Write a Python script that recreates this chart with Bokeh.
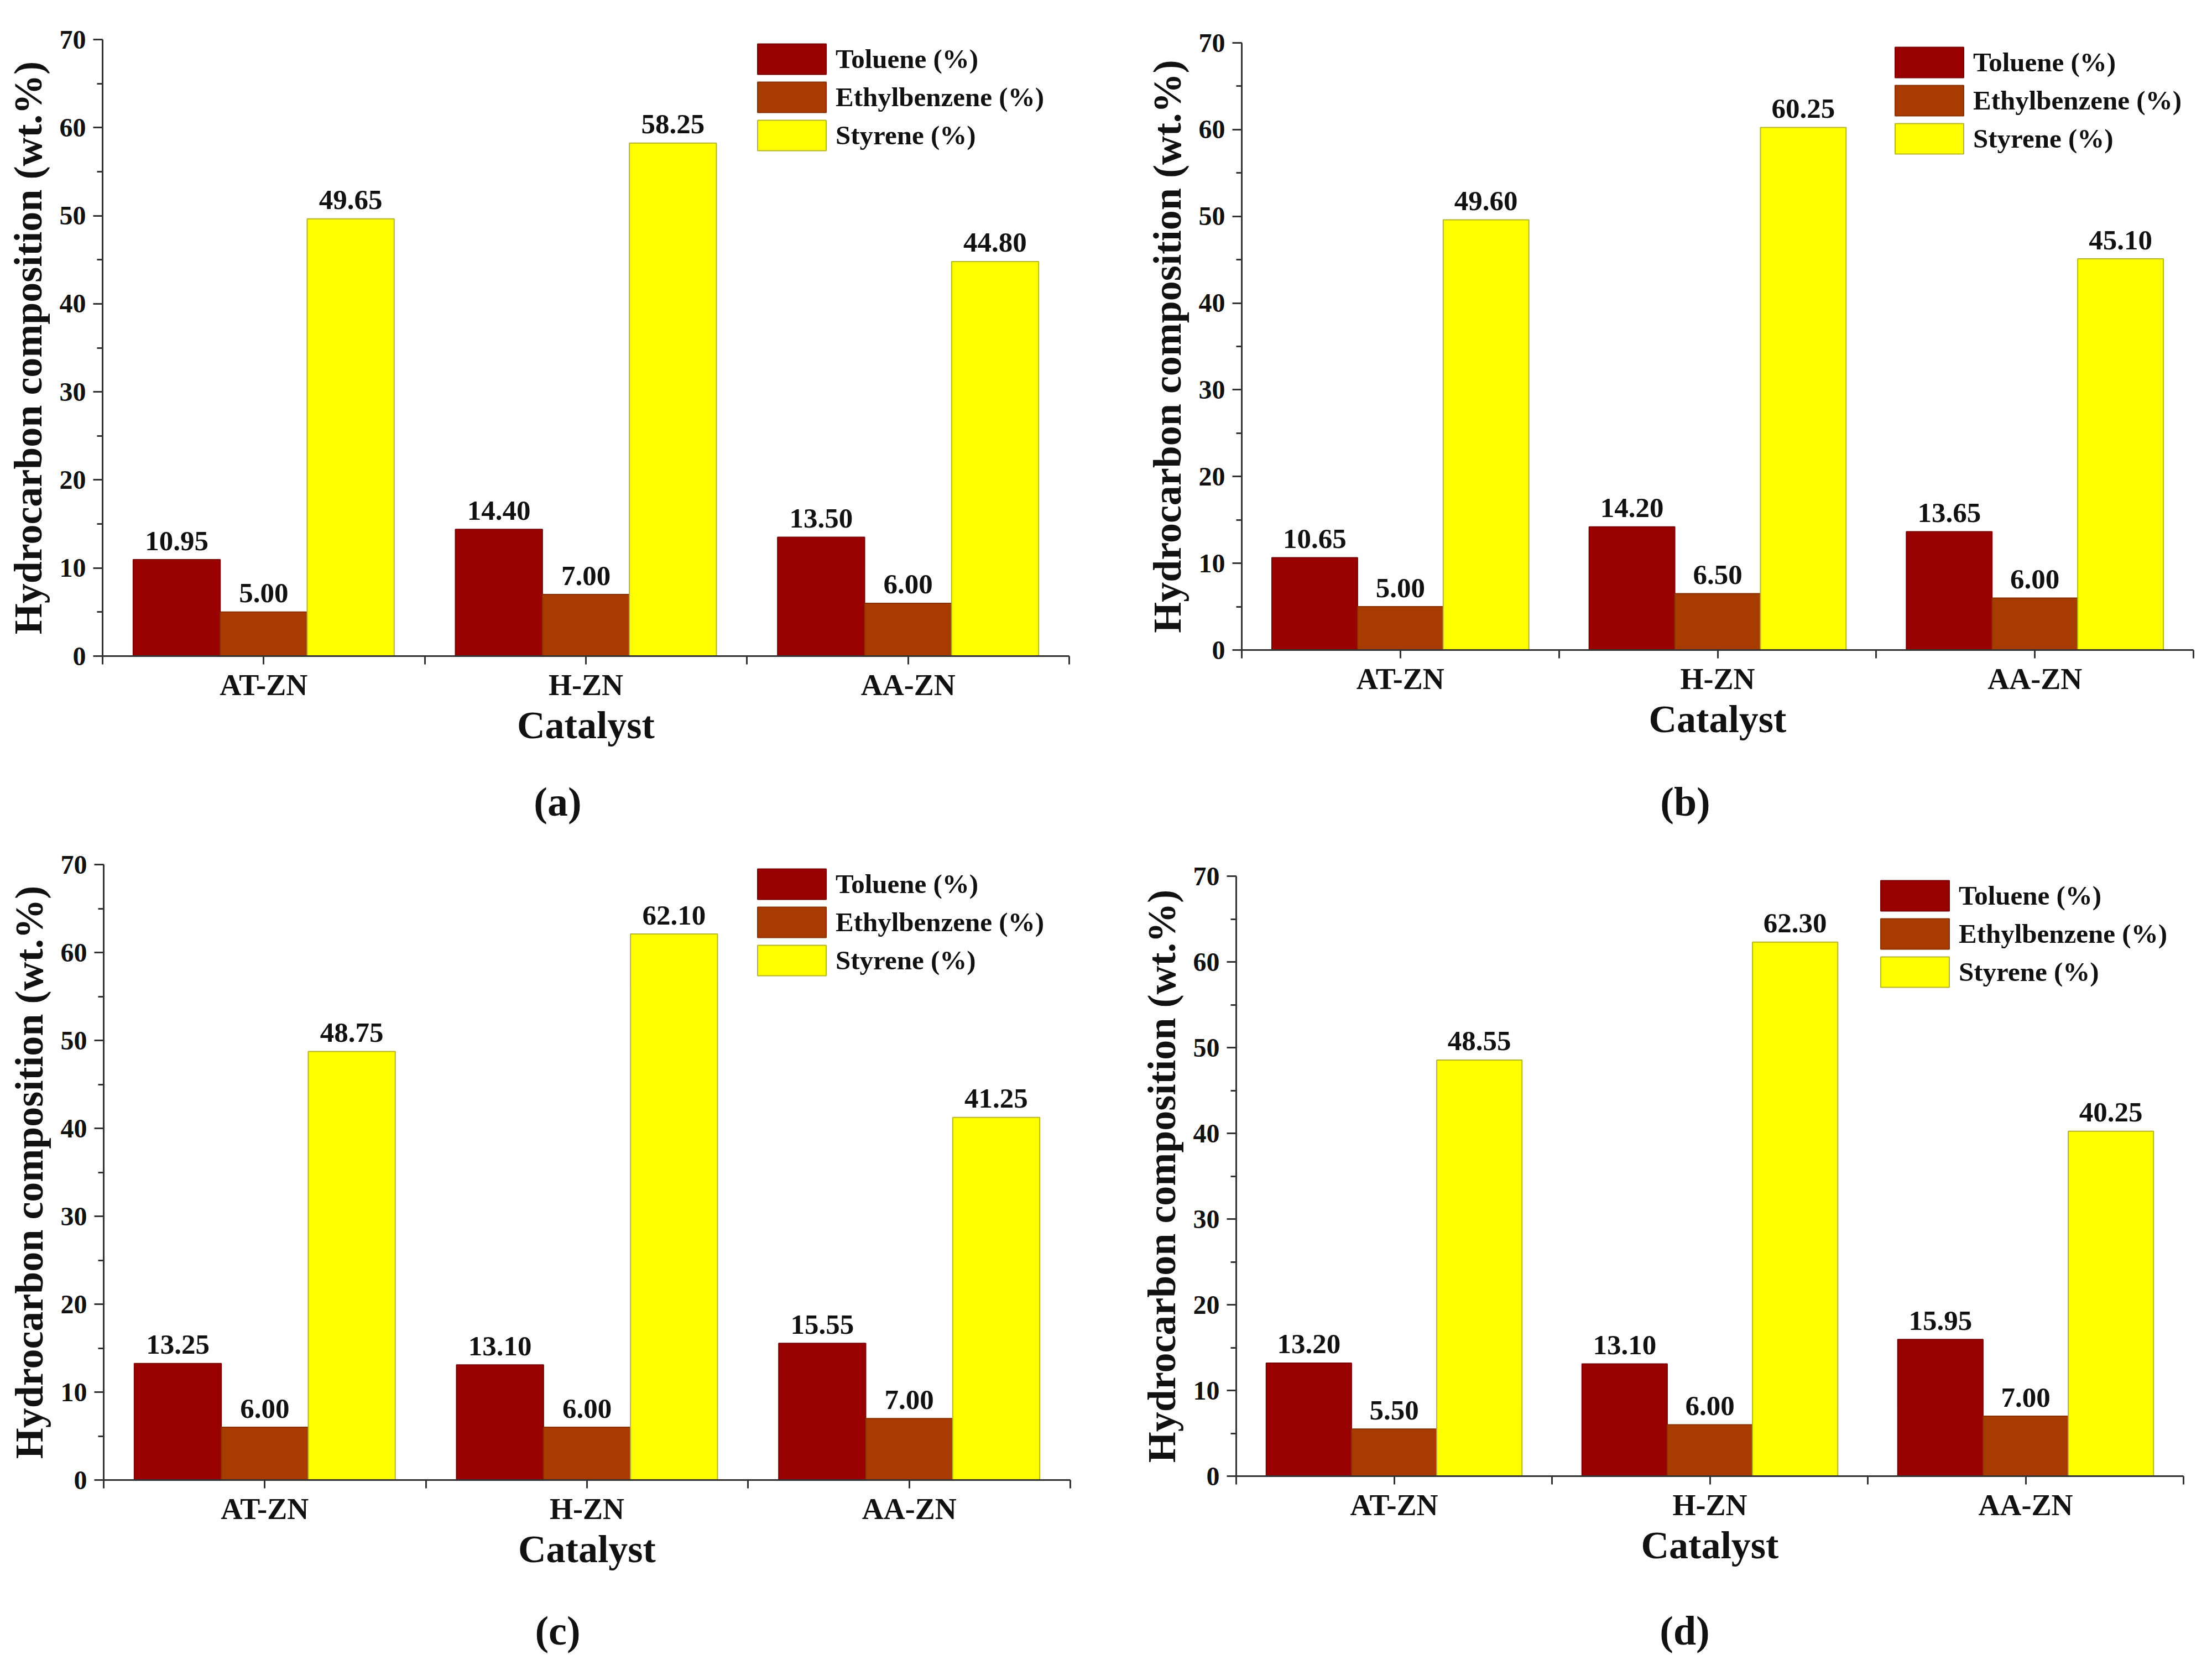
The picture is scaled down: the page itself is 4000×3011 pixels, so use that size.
from bokeh.plotting import figure
from bokeh.models import Range1d, FixedTicker, SingleIntervalTicker, Legend, LegendItem, Label
from bokeh.layouts import row, column
from bokeh.embed import file_html
from bokeh.resources import INLINE
from bokeh.core.properties import value

# ---------------- data ----------------
catalysts = ["AT-ZN", "H-ZN", "AA-ZN"]
series_names = ["Toluene (%)", "Ethylbenzene (%)", "Styrene (%)"]

toluene_a = [10.95, 14.40, 13.50]
ethylbenzene_a = [5.00, 7.00, 6.00]
styrene_a = [49.65, 58.25, 44.80]

toluene_b = [10.65, 14.20, 13.65]
ethylbenzene_b = [5.00, 6.50, 6.00]
styrene_b = [49.60, 60.25, 45.10]

toluene_c = [13.25, 13.10, 15.55]
ethylbenzene_c = [6.00, 6.00, 7.00]
styrene_c = [48.75, 62.10, 41.25]

toluene_d = [13.20, 13.10, 15.95]
ethylbenzene_d = [5.50, 6.00, 7.00]
styrene_d = [48.55, 62.30, 40.25]

panel_captions = ["(a)", "(b)", "(c)", "(d)"]
y_label = "Hydrocarbon composition (wt.%)"
x_label = "Catalyst"
y_max = 70

# ---------------- style ----------------
FONT = "Liberation Serif"
FILL = ["#990000", "#a83c00", "#ffff00"]
LINE = ["#7a0000", "#8a3000", "#b5b52a"]
AXC = "#333333"
TXT = "#111111"
BAR_W = 0.27
LABEL_GAP_PX = 34          # from bar top to centre of the value label
GLYPH_W, GLYPH_H = 155, 69
CAP_SIZE = 74


def make_panel(series, W, H, bl, bt, br, bb, leg_x):
    p = figure(width=W, height=H, output_backend="svg", toolbar_location=None,
               x_range=Range1d(0, 3), y_range=Range1d(0, y_max),
               min_border_left=bl, min_border_top=bt, min_border_right=br,
               min_border_bottom=bb)
    try:
        p.frame_align = False
    except Exception:
        pass
    p.xgrid.visible = False
    p.ygrid.visible = False
    p.outline_line_color = None
    p.background_fill_color = "white"
    p.border_fill_color = "white"

    frame_h = H - bt - bb
    gap = LABEL_GAP_PX * y_max / frame_h

    items = []
    for i, vals in enumerate(series):
        xs = [j + 0.5 + (i - 1) * BAR_W for j in range(len(catalysts))]
        r = p.vbar(x=xs, top=vals, width=BAR_W, bottom=0,
                   fill_color=FILL[i], line_color=LINE[i], line_width=2)
        items.append(LegendItem(label=series_names[i], renderers=[r]))
        p.text(x=xs, y=[v + gap for v in vals], text=[f"{v:.2f}" for v in vals],
               text_align="center", text_baseline="middle",
               text_font=value(FONT), text_font_style="bold",
               text_font_size="51px", text_color=TXT)

    legend_h = 3 * GLYPH_H
    leg = Legend(items=items, location=(leg_x, frame_h - legend_h - 1),
                 orientation="vertical", glyph_width=GLYPH_W, glyph_height=GLYPH_H,
                 label_height=GLYPH_H, spacing=0, padding=0, margin=0,
                 border_line_alpha=0, background_fill_alpha=0, label_standoff=2,
                 label_text_font=FONT, label_text_font_size="49px",
                 label_text_font_style="bold", label_text_baseline="middle",
                 label_text_color=TXT)
    p.add_layout(leg)

    # y axis
    ya = p.yaxis[0]
    ya.ticker = SingleIntervalTicker(interval=10, num_minor_ticks=2)
    ya.axis_label = y_label
    ya.axis_line_width = 3
    ya.axis_line_color = AXC
    ya.major_tick_line_width = 3
    ya.major_tick_line_color = AXC
    ya.minor_tick_line_width = 3
    ya.minor_tick_line_color = AXC
    ya.major_tick_out = 17
    ya.major_tick_in = 0
    ya.minor_tick_out = 10
    ya.minor_tick_in = 0
    ya.major_label_standoff = 13
    ya.major_label_text_font = FONT
    ya.major_label_text_font_style = "bold"
    ya.major_label_text_font_size = "48px"
    ya.major_label_text_color = TXT
    ya.axis_label_text_font = FONT
    ya.axis_label_text_font_style = "bold"
    ya.axis_label_text_font_size = "72px"
    ya.axis_label_text_color = TXT
    ya.axis_label_standoff = 14

    # x axis
    xa = p.xaxis[0]
    ticks = [k * 0.5 for k in range(2 * len(catalysts) + 1)]
    xa.ticker = FixedTicker(ticks=ticks, minor_ticks=[])
    overrides = {}
    for k, t in enumerate(ticks):
        overrides[t] = catalysts[k // 2] if k % 2 == 1 else ""
    xa.major_label_overrides = overrides
    xa.axis_label = x_label
    xa.axis_line_width = 3
    xa.axis_line_color = AXC
    xa.major_tick_line_width = 3
    xa.major_tick_line_color = AXC
    xa.major_tick_out = 15
    xa.major_tick_in = 0
    xa.minor_tick_out = 0
    xa.minor_tick_in = 0
    xa.major_label_standoff = 7
    xa.major_label_text_font = FONT
    xa.major_label_text_font_style = "bold"
    xa.major_label_text_font_size = "54px"
    xa.major_label_text_color = TXT
    xa.axis_label_text_font = FONT
    xa.axis_label_text_font_style = "bold"
    xa.axis_label_text_font_size = "70px"
    xa.axis_label_text_color = TXT
    xa.axis_label_standoff = 1
    return p


def make_caption(text, W, H, cx, cy_from_top):
    c = figure(width=W, height=H, output_backend="svg", toolbar_location=None,
               x_range=Range1d(0, 1), y_range=Range1d(0, 1), min_border=0,
               x_axis_type=None, y_axis_type=None)
    c.outline_line_color = None
    c.background_fill_color = "white"
    c.border_fill_color = "white"
    c.add_layout(Label(x=cx, y=H - cy_from_top, x_units="screen", y_units="screen",
                       text=text, text_align="center", text_baseline="middle",
                       text_font=FONT, text_font_style="bold",
                       text_font_size=f"{CAP_SIZE}px", text_color=TXT))
    return c


# panel geometry (pixels): figure size, borders, legend x
pa = make_panel([toluene_a, ethylbenzene_a, styrene_a], 2000, 1380, 185, 71, 67, 194, 1169)
pb = make_panel([toluene_b, ethylbenzene_b, styrene_b], 1984, 1380, 245, 77, 18, 205, 1166)
pc = make_panel([toluene_c, ethylbenzene_c, styrene_c], 2000, 1370, 187, 63, 65, 194, 1167)
pd = make_panel([toluene_d, ethylbenzene_d, styrene_d], 1984, 1370, 235, 84, 36, 201, 1150)

ca = make_caption(panel_captions[0], 2000, 120, 1008, 69)
cb = make_caption(panel_captions[1], 1984, 120, 1047, 69)
cc = make_caption(panel_captions[2], 2000, 125, 1008, 78)
cd = make_caption(panel_captions[3], 1984, 125, 1046, 78)

layout = column(row(pa, pb, spacing=0), row(ca, cb, spacing=0),
                row(pc, pd, spacing=0), row(cc, cd, spacing=0), spacing=0)
open("out.html", "w").write(file_html(layout, INLINE))
